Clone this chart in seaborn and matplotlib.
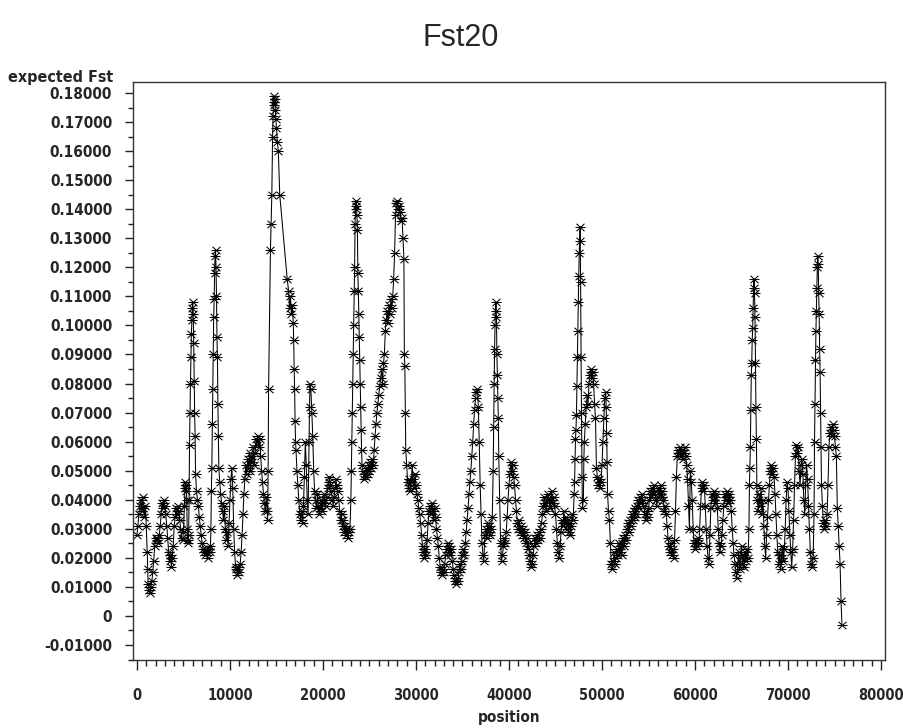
import numpy as np
import pandas as pd
import matplotlib
matplotlib.use("Agg")
import matplotlib.pyplot as plt
from matplotlib.path import Path
from matplotlib.ticker import MultipleLocator
import seaborn as sns

# expected Fst along the sequence, (position, Fst)
seg_a = [(0, 0.028), (100, 0.031), (200, 0.035), (300, 0.038), (400, 0.040), (500, 0.036), (600, 0.041),
         (700, 0.037), (800, 0.034), (900, 0.038), (1000, 0.031), (1100, 0.022), (1150, 0.016), (1200, 0.011),
         (1300, 0.009), (1400, 0.008), (1500, 0.010), (1600, 0.012), (1700, 0.015), (1800, 0.019), (1900, 0.024),
         (2000, 0.027), (2100, 0.026), (2200, 0.027), (2300, 0.025), (2400, 0.028), (2500, 0.031), (2600, 0.035),
         (2700, 0.039), (2800, 0.037), (2900, 0.040), (3000, 0.038), (3100, 0.035), (3200, 0.031), (3300, 0.027),
         (3400, 0.022), (3500, 0.019), (3600, 0.021), (3700, 0.017), (3800, 0.020), (3900, 0.024), (4000, 0.031),
         (4100, 0.034), (4200, 0.037), (4300, 0.035), (4400, 0.038), (4500, 0.036), (4600, 0.033), (4700, 0.030),
         (4800, 0.027), (4900, 0.026), (5000, 0.029), (5100, 0.038), (5150, 0.044), (5200, 0.046), (5250, 0.043),
         (5300, 0.045), (5350, 0.040), (5400, 0.030), (5450, 0.026), (5500, 0.025), (5550, 0.028), (5600, 0.040),
         (5650, 0.059), (5700, 0.070), (5750, 0.080), (5800, 0.089), (5850, 0.097), (5900, 0.102), (5950, 0.106),
         (6000, 0.108), (6050, 0.104), (6100, 0.094), (6150, 0.081), (6200, 0.070), (6250, 0.062), (6300, 0.049),
         (6400, 0.043), (6500, 0.040), (6600, 0.038), (6700, 0.034), (6800, 0.031), (6900, 0.028)]

seg_b = [(7000, 0.025), (7100, 0.023), (7200, 0.022), (7300, 0.021), (7400, 0.023), (7500, 0.022), (7600, 0.020),
         (7700, 0.023), (7800, 0.022), (7900, 0.024), (7950, 0.030), (8000, 0.043), (8050, 0.051), (8100, 0.066),
         (8150, 0.078), (8200, 0.090), (8250, 0.103), (8300, 0.109), (8350, 0.118), (8400, 0.124), (8450, 0.126),
         (8500, 0.120), (8550, 0.110), (8600, 0.096), (8650, 0.089), (8700, 0.073), (8750, 0.062), (8800, 0.051),
         (8900, 0.046), (9000, 0.042), (9100, 0.039), (9200, 0.036), (9300, 0.033), (9400, 0.038), (9500, 0.030),
         (9600, 0.026), (9700, 0.029), (9800, 0.024), (9900, 0.032), (10000, 0.040), (10100, 0.047), (10200, 0.051),
         (10300, 0.044), (10400, 0.030), (10500, 0.022), (10600, 0.017), (10700, 0.016), (10800, 0.014),
         (10900, 0.017), (11000, 0.015), (11100, 0.018), (11200, 0.022), (11300, 0.028), (11400, 0.035),
         (11500, 0.042), (11600, 0.047), (11700, 0.052), (11800, 0.049), (11900, 0.054), (12000, 0.051),
         (12100, 0.056), (12200, 0.050), (12300, 0.055), (12400, 0.053), (12500, 0.058), (12600, 0.052),
         (12700, 0.056), (12800, 0.061), (12900, 0.059), (13000, 0.062), (13100, 0.058), (13200, 0.061),
         (13300, 0.055), (13400, 0.050), (13500, 0.046), (13600, 0.042), (13700, 0.039), (13800, 0.036),
         (13900, 0.041)]

seg_c = [(14000, 0.036), (14050, 0.033), (14100, 0.050), (14150, 0.078), (14350, 0.126), (14420, 0.135),
         (14500, 0.145), (14580, 0.165), (14630, 0.172), (14680, 0.177), (14730, 0.179), (14780, 0.176),
         (14830, 0.178), (14880, 0.174), (14930, 0.171), (15000, 0.168), (15100, 0.163), (15200, 0.160),
         (15350, 0.145), (16150, 0.116), (16300, 0.112), (16400, 0.106), (16500, 0.110), (16600, 0.104),
         (16700, 0.107), (16800, 0.101), (16850, 0.095), (16900, 0.085), (16950, 0.078), (17000, 0.067),
         (17050, 0.060), (17100, 0.057), (17200, 0.050), (17300, 0.045), (17400, 0.040), (17500, 0.035),
         (17600, 0.033), (17700, 0.036), (17800, 0.032), (17900, 0.038), (18000, 0.048), (18100, 0.060),
         (18200, 0.052), (18300, 0.040), (18400, 0.035), (18500, 0.060), (18550, 0.072), (18600, 0.080),
         (18700, 0.078), (18800, 0.070), (18900, 0.062), (19000, 0.050), (19100, 0.043), (19200, 0.040),
         (19300, 0.037), (19400, 0.042), (19500, 0.038), (19600, 0.035), (19700, 0.037), (19800, 0.040),
         (19900, 0.036), (20000, 0.039), (20100, 0.042), (20200, 0.040), (20300, 0.038), (20400, 0.041),
         (20500, 0.044), (20600, 0.046), (20700, 0.048), (20800, 0.045), (20900, 0.043), (21000, 0.040),
         (21100, 0.038), (21200, 0.041), (21300, 0.044), (21400, 0.047), (21500, 0.045), (21600, 0.043),
         (21700, 0.040), (21800, 0.036), (21900, 0.033), (22000, 0.035), (22100, 0.031), (22200, 0.033),
         (22300, 0.029), (22400, 0.031), (22500, 0.028), (22600, 0.030), (22700, 0.027), (22800, 0.029),
         (22900, 0.030)]

seg_d = [(23000, 0.040), (23050, 0.050), (23100, 0.060), (23150, 0.070), (23200, 0.080), (23250, 0.090),
         (23300, 0.100), (23350, 0.112), (23400, 0.120), (23450, 0.135), (23500, 0.141), (23550, 0.143),
         (23600, 0.140), (23650, 0.138), (23700, 0.133), (23750, 0.118), (23800, 0.112), (23850, 0.104),
         (23900, 0.096), (23950, 0.088), (24000, 0.080), (24050, 0.072), (24100, 0.064), (24150, 0.057),
         (24200, 0.052), (24300, 0.050), (24400, 0.047), (24500, 0.049), (24600, 0.048), (24700, 0.051),
         (24800, 0.049), (24900, 0.052), (25000, 0.050), (25100, 0.053), (25200, 0.051), (25300, 0.054),
         (25400, 0.052), (25500, 0.057), (25600, 0.062), (25700, 0.066), (25800, 0.070), (25900, 0.073),
         (26000, 0.076), (26100, 0.079), (26200, 0.082), (26300, 0.085), (26400, 0.080), (26500, 0.087),
         (26600, 0.090), (26700, 0.098), (26800, 0.102), (26900, 0.105), (27000, 0.101), (27100, 0.107),
         (27200, 0.104), (27300, 0.109), (27400, 0.106), (27500, 0.110), (27600, 0.116), (27700, 0.125),
         (27800, 0.138), (27900, 0.142), (28000, 0.143), (28100, 0.140), (28200, 0.141), (28300, 0.139),
         (28400, 0.136), (28500, 0.137), (28600, 0.130), (28700, 0.123), (28750, 0.090), (28800, 0.086),
         (28850, 0.070), (28900, 0.057), (29000, 0.052), (29100, 0.046), (29200, 0.044), (29300, 0.047),
         (29400, 0.043), (29500, 0.046), (29600, 0.052), (29700, 0.047), (29800, 0.044), (29900, 0.049)]

seg_e = [(30000, 0.045), (30100, 0.042), (30200, 0.040), (30300, 0.037), (30400, 0.035), (30500, 0.032),
         (30600, 0.028), (30700, 0.024), (30800, 0.022), (30900, 0.020), (31000, 0.023), (31100, 0.021),
         (31200, 0.026), (31300, 0.032), (31400, 0.036), (31500, 0.038), (31600, 0.035), (31700, 0.039),
         (31800, 0.036), (31900, 0.033), (32000, 0.037), (32100, 0.034), (32200, 0.030), (32300, 0.027),
         (32400, 0.024), (32500, 0.020), (32600, 0.017), (32700, 0.015), (32800, 0.014), (32900, 0.016),
         (33000, 0.015), (33100, 0.018), (33200, 0.021), (33300, 0.023), (33400, 0.025), (33500, 0.022),
         (33600, 0.024), (33700, 0.021), (33800, 0.023), (33900, 0.019), (34000, 0.016), (34100, 0.014),
         (34200, 0.012), (34300, 0.011), (34400, 0.013), (34500, 0.012), (34600, 0.015), (34700, 0.018),
         (34800, 0.016), (34900, 0.019), (35000, 0.021), (35100, 0.023), (35200, 0.021), (35300, 0.025),
         (35400, 0.029), (35500, 0.033), (35600, 0.037), (35700, 0.042), (35800, 0.046), (35900, 0.050),
         (36000, 0.055), (36100, 0.060), (36200, 0.066), (36300, 0.071), (36400, 0.075), (36500, 0.077),
         (36600, 0.078), (36700, 0.072), (36800, 0.060), (36900, 0.045), (37000, 0.035), (37100, 0.025),
         (37200, 0.021), (37300, 0.019), (37400, 0.028), (37500, 0.030), (37600, 0.027), (37700, 0.032),
         (37800, 0.029), (37900, 0.031), (38000, 0.028), (38100, 0.030), (38200, 0.034), (38300, 0.050),
         (38350, 0.065), (38400, 0.080), (38450, 0.092), (38500, 0.100), (38550, 0.105), (38600, 0.108),
         (38650, 0.103), (38700, 0.090), (38750, 0.083), (38800, 0.075), (38850, 0.068), (38900, 0.055),
         (39000, 0.040), (39100, 0.025), (39200, 0.019), (39300, 0.021), (39400, 0.024), (39500, 0.027),
         (39600, 0.025), (39700, 0.029), (39800, 0.034), (39900, 0.040), (40000, 0.045), (40100, 0.049),
         (40200, 0.053), (40300, 0.050), (40400, 0.052), (40500, 0.048), (40600, 0.045), (40700, 0.040),
         (40800, 0.036), (40900, 0.032), (41000, 0.030), (41100, 0.033), (41200, 0.029), (41300, 0.031),
         (41400, 0.028), (41500, 0.030), (41600, 0.027), (41700, 0.029), (41800, 0.025), (41900, 0.027),
         (42000, 0.023), (42100, 0.025), (42200, 0.021), (42300, 0.019), (42400, 0.017), (42500, 0.018),
         (42600, 0.021), (42700, 0.024), (42800, 0.027), (42900, 0.025), (43000, 0.028), (43100, 0.026),
         (43200, 0.029), (43300, 0.027), (43400, 0.030), (43500, 0.032), (43600, 0.035), (43700, 0.038),
         (43800, 0.041), (43900, 0.039), (44000, 0.036), (44100, 0.040), (44200, 0.042), (44300, 0.040),
         (44400, 0.037)]

seg_f = [(44500, 0.040), (44600, 0.043), (44700, 0.039), (44800, 0.041), (44900, 0.038), (45000, 0.035),
         (45100, 0.030), (45200, 0.025), (45300, 0.022), (45400, 0.020), (45500, 0.024), (45600, 0.029),
         (45700, 0.033), (45800, 0.031), (45900, 0.036), (46000, 0.032), (46100, 0.034), (46200, 0.030),
         (46300, 0.033), (46400, 0.029), (46500, 0.032), (46600, 0.028), (46700, 0.031), (46800, 0.035),
         (46900, 0.033), (47000, 0.042), (47050, 0.046), (47100, 0.054), (47150, 0.061), (47200, 0.064),
         (47250, 0.069), (47300, 0.079), (47350, 0.089), (47400, 0.098), (47450, 0.108), (47500, 0.117),
         (47550, 0.125), (47600, 0.129), (47650, 0.134), (47700, 0.115), (47750, 0.089), (47800, 0.070),
         (47850, 0.048), (47900, 0.037), (48000, 0.040), (48050, 0.054), (48100, 0.060), (48200, 0.066),
         (48300, 0.072), (48400, 0.076), (48500, 0.073), (48600, 0.080), (48700, 0.083), (48800, 0.085),
         (48900, 0.082), (49000, 0.084), (49100, 0.080), (49200, 0.073), (49300, 0.068), (49400, 0.051),
         (49500, 0.048), (49600, 0.045), (49700, 0.047), (49800, 0.044), (49900, 0.046), (50000, 0.052),
         (50100, 0.060), (50200, 0.068), (50300, 0.075), (50400, 0.077), (50450, 0.072), (50500, 0.063),
         (50550, 0.053), (50600, 0.042), (50700, 0.036), (50800, 0.033), (50900, 0.025), (51000, 0.018),
         (51100, 0.016), (51200, 0.019), (51300, 0.022), (51400, 0.018), (51500, 0.020), (51600, 0.023),
         (51700, 0.021), (51800, 0.025), (51900, 0.022), (52000, 0.024), (52100, 0.021), (52200, 0.025),
         (52300, 0.027), (52400, 0.024), (52500, 0.028), (52600, 0.026), (52700, 0.030), (52800, 0.032),
         (52900, 0.029), (53000, 0.033), (53100, 0.031), (53200, 0.035), (53300, 0.033), (53400, 0.036),
         (53500, 0.034), (53600, 0.037), (53700, 0.035), (53800, 0.038), (53900, 0.040), (54000, 0.037),
         (54100, 0.041), (54200, 0.039), (54300, 0.042), (54400, 0.040), (54500, 0.038), (54600, 0.035),
         (54700, 0.033), (54800, 0.036), (54900, 0.034), (55000, 0.037), (55100, 0.040), (55200, 0.043),
         (55300, 0.041), (55400, 0.044), (55500, 0.042), (55600, 0.045), (55700, 0.043), (55800, 0.040),
         (55900, 0.038), (56000, 0.041), (56100, 0.044), (56200, 0.042), (56300, 0.045), (56400, 0.041),
         (56500, 0.043), (56600, 0.040), (56700, 0.036), (56800, 0.038), (56900, 0.035), (57000, 0.031),
         (57100, 0.027), (57200, 0.024), (57300, 0.022), (57400, 0.025), (57500, 0.021), (57600, 0.023),
         (57700, 0.020), (57800, 0.026), (57900, 0.036), (58000, 0.048), (58100, 0.055), (58200, 0.057),
         (58300, 0.056), (58400, 0.058), (58500, 0.055), (58600, 0.057), (58700, 0.054), (58800, 0.056),
         (58900, 0.058), (59000, 0.055), (59100, 0.052), (59200, 0.047), (59300, 0.038), (59400, 0.030)]

seg_g = [(59500, 0.050), (59600, 0.046), (59700, 0.040), (59800, 0.030), (59900, 0.025), (60000, 0.023),
         (60100, 0.026), (60200, 0.024), (60300, 0.027), (60400, 0.025), (60500, 0.030), (60600, 0.038),
         (60700, 0.044), (60800, 0.046), (60900, 0.043), (61000, 0.045), (61100, 0.038), (61200, 0.030),
         (61300, 0.024), (61400, 0.020), (61500, 0.018), (61600, 0.028), (61700, 0.037), (61800, 0.042),
         (61900, 0.040), (62000, 0.043), (62100, 0.041), (62200, 0.039), (62300, 0.042), (62400, 0.037),
         (62500, 0.030), (62600, 0.025), (62700, 0.022), (62800, 0.024), (62900, 0.028), (63000, 0.033),
         (63100, 0.038), (63200, 0.042), (63300, 0.040), (63400, 0.043), (63500, 0.041), (63600, 0.039),
         (63700, 0.042), (63800, 0.040), (63900, 0.036), (64000, 0.030), (64100, 0.025), (64200, 0.021),
         (64300, 0.018), (64400, 0.015), (64500, 0.013), (64600, 0.018), (64700, 0.022), (64800, 0.016),
         (64900, 0.020), (65000, 0.024), (65100, 0.018), (65200, 0.021), (65300, 0.017), (65400, 0.022),
         (65500, 0.019), (65600, 0.023), (65700, 0.020), (65800, 0.030), (65850, 0.045), (65900, 0.051),
         (65950, 0.058), (66000, 0.071), (66050, 0.083), (66100, 0.087), (66150, 0.095), (66200, 0.099),
         (66250, 0.106), (66300, 0.113), (66350, 0.116), (66400, 0.111), (66450, 0.103), (66500, 0.087),
         (66550, 0.072), (66600, 0.061), (66650, 0.045), (66700, 0.040), (66800, 0.036), (66900, 0.042),
         (67000, 0.038), (67100, 0.044), (67200, 0.035), (67300, 0.040), (67400, 0.031), (67500, 0.024),
         (67600, 0.020), (67700, 0.028), (67800, 0.034), (67900, 0.040), (68000, 0.045), (68100, 0.050),
         (68200, 0.052), (68300, 0.049), (68400, 0.051), (68500, 0.048), (68600, 0.042), (68700, 0.035),
         (68800, 0.028), (68900, 0.022), (69000, 0.018), (69100, 0.021), (69200, 0.016), (69300, 0.020),
         (69400, 0.024), (69500, 0.019), (69600, 0.023), (69700, 0.030), (69800, 0.040), (69900, 0.046),
         (70000, 0.044), (70100, 0.036), (70200, 0.028), (70300, 0.022), (70400, 0.017), (70500, 0.023),
         (70600, 0.033), (70700, 0.045), (70800, 0.055), (70900, 0.059), (71000, 0.056), (71100, 0.058),
         (71200, 0.050), (71300, 0.045), (71400, 0.052), (71500, 0.054), (71600, 0.049), (71700, 0.040),
         (71800, 0.035), (71900, 0.045), (72000, 0.052), (72100, 0.047), (72200, 0.038), (72300, 0.030),
         (72400, 0.022), (72500, 0.018), (72600, 0.017), (72700, 0.020), (72800, 0.035), (72850, 0.060),
         (72900, 0.073), (72950, 0.088), (73000, 0.098), (73050, 0.105), (73100, 0.113), (73150, 0.120),
         (73200, 0.124), (73250, 0.121), (73300, 0.111), (73350, 0.104), (73400, 0.092), (73450, 0.084),
         (73500, 0.070), (73550, 0.058), (73600, 0.045), (73700, 0.038), (73800, 0.032), (73900, 0.030),
         (74000, 0.033), (74100, 0.031), (74200, 0.035), (74300, 0.045), (74400, 0.058), (74500, 0.063),
         (74600, 0.065), (74700, 0.062), (74800, 0.066), (74900, 0.064), (75000, 0.062), (75100, 0.058),
         (75200, 0.055), (75300, 0.037), (75400, 0.031), (75500, 0.024), (75600, 0.018), (75700, 0.005),
         (75800, -0.003)]

xticks = [0, 10000, 20000, 30000, 40000, 50000, 60000, 70000, 80000]
yticks = [-0.01, 0.0, 0.01, 0.02, 0.03, 0.04, 0.05, 0.06, 0.07, 0.08, 0.09,
          0.10, 0.11, 0.12, 0.13, 0.14, 0.15, 0.16, 0.17, 0.18]
ytick_labels = ['-0.01000', '0', '0.01000', '0.02000', '0.03000', '0.04000', '0.05000', '0.06000',
                '0.07000', '0.08000', '0.09000', '0.10000', '0.11000', '0.12000', '0.13000',
                '0.14000', '0.15000', '0.16000', '0.17000', '0.18000']

df = pd.DataFrame(seg_a + seg_b + seg_c + seg_d + seg_e + seg_f + seg_g, columns=['position', 'fst'])

sns.set_style('ticks')
plt.rcParams['font.family'] = ['DejaVu Sans']

# SAS style star: horizontal bar crossed by an X
star = Path([(-1, 0), (1, 0), (-0.8, -0.75), (0.8, 0.75), (-0.8, 0.75), (0.8, -0.75)],
            [Path.MOVETO, Path.LINETO, Path.MOVETO, Path.LINETO, Path.MOVETO, Path.LINETO])

fig = plt.figure(figsize=(9.04, 7.28), dpi=100)
ax = fig.add_axes([0.1471, 0.0934, 0.8319, 0.794])

sns.lineplot(data=df, x='position', y='fst', ax=ax, color='black', linewidth=0.75,
             estimator=None, sort=False, marker=star, markersize=7.2,
             markerfacecolor='none', markeredgecolor='black', markeredgewidth=0.75)

ax.set_xlim(-430, 80430)
ax.set_ylim(-0.01516, 0.1838)
ax.set_xticks(xticks)
ax.set_xticklabels([str(t) for t in xticks])
ax.set_yticks(yticks)
ax.set_yticklabels(ytick_labels)
ax.xaxis.set_minor_locator(MultipleLocator(1000))
ax.yaxis.set_minor_locator(MultipleLocator(0.005))
ax.tick_params(axis='x', which='major', length=7, width=1, pad=13, color='#222222')
ax.tick_params(axis='x', which='minor', length=4, width=1, color='#222222')
ax.tick_params(axis='y', which='major', length=6, width=1, pad=9, color='#222222')
ax.tick_params(axis='y', which='minor', length=3.5, width=1, color='#222222')
for lab in ax.get_xticklabels():
    lab.set_fontsize(10.5)
    lab.set_fontweight('bold')
    lab.set_fontstretch('condensed')
for lab in ax.get_yticklabels():
    lab.set_fontsize(11)
    lab.set_fontweight('bold')
    lab.set_fontstretch('condensed')
for sp in ax.spines.values():
    sp.set_visible(True)
    sp.set_linewidth(1.0)
    sp.set_color('#333333')
ax.set_xlabel('')
ax.set_ylabel('')

fig.text(0.125, 0.894, 'expected Fst', ha='right', va='center', fontsize=11.5,
         fontweight='bold', fontstretch='condensed')
fig.text(0.563, 0.014, 'position', ha='center', va='center', fontsize=11,
         fontweight='bold', fontstretch='condensed')
fig.text(0.51, 0.948, 'Fst20', ha='center', va='center', fontsize=22,
         family=['Liberation Sans', 'DejaVu Sans'])

fig.savefig('out.png', dpi=100, facecolor='white')
